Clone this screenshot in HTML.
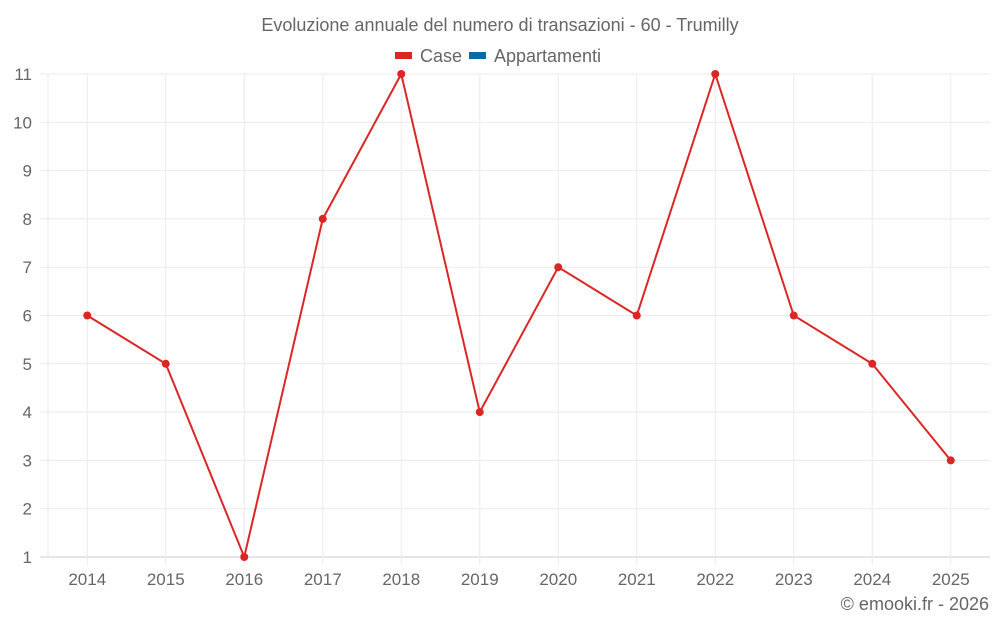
<!DOCTYPE html>
<html><head><meta charset="utf-8"><style>
body{margin:0;background:#fff;font-family:"Liberation Sans",sans-serif;}
svg text{font-family:"Liberation Sans",sans-serif;fill:#666;}
</style></head><body>
<svg id="chart" width="1000" height="625">
<text x="500" y="31" text-anchor="middle" font-size="18">Evoluzione annuale del numero di transazioni - 60 - Trumilly</text>
<g>
<g><rect x="395" y="52" width="17" height="7" fill="#dc2626"/><text x="420" y="62" font-size="18">Case</text></g>
<g><rect x="469" y="52" width="17" height="7" fill="#0b6aa2"/><text x="494" y="62" font-size="18">Appartamenti</text></g>
</g>
<g id="grid"></g><g id="axes"></g><g id="series"></g>
<text x="989" y="610" text-anchor="end" font-size="18">© emooki.fr - 2026</text>
</svg>
<script>
const years=["2014","2015","2016","2017","2018","2019","2020","2021","2022","2023","2024","2025"];
const caseValues=[6,5,1,8,11,4,7,6,11,6,5,3];
const yTicks=[1,2,3,4,5,6,7,8,9,10,11];
const NS="http://www.w3.org/2000/svg";
const L=48,R=990,T=74,B=557,yMin=1,yMax=11;
const band=(R-L)/years.length;
const x=i=>L+band*(i+0.5);
const y=v=>B-(v-yMin)/(yMax-yMin)*(B-T);
function mk(t,a,p){const e=document.createElementNS(NS,t);for(const k in a)e.setAttribute(k,a[k]);p.appendChild(e);return e;}
const grid=document.getElementById('grid'),axes=document.getElementById('axes'),ser=document.getElementById('series');
yTicks.forEach(v=>{
 const ln=mk('line',{x1:40,x2:R,y1:y(v),y2:y(v),stroke:v===yMin?'#ccc':'#ebebeb','stroke-width':1},grid);
 
 
 const t=mk('text',{x:32,y:y(v)+6,'text-anchor':'end','font-size':17},axes);
 t.textContent=v;
 
 
});
const ax=mk('line',{x1:L,x2:L,y1:T,y2:B,stroke:'#ebebeb'},grid);


years.forEach((yr,i)=>{
 const ln=mk('line',{x1:x(i),x2:x(i),y1:T,y2:B+8,stroke:'#ebebeb'},grid);
 
 
 const t=mk('text',{x:x(i),y:585,'text-anchor':'middle','font-size':17},axes);
 t.textContent=yr;
 
 
});
const pl=mk('polyline',{points:caseValues.map((v,i)=>x(i)+','+y(v)).join(' '),fill:'none',stroke:'#dc2626','stroke-width':2},ser);


caseValues.forEach((v,i)=>{
 const c=mk('circle',{cx:x(i),cy:y(v),r:4,fill:'#dc2626'},ser);
 
 
});
</script>
</body></html>
